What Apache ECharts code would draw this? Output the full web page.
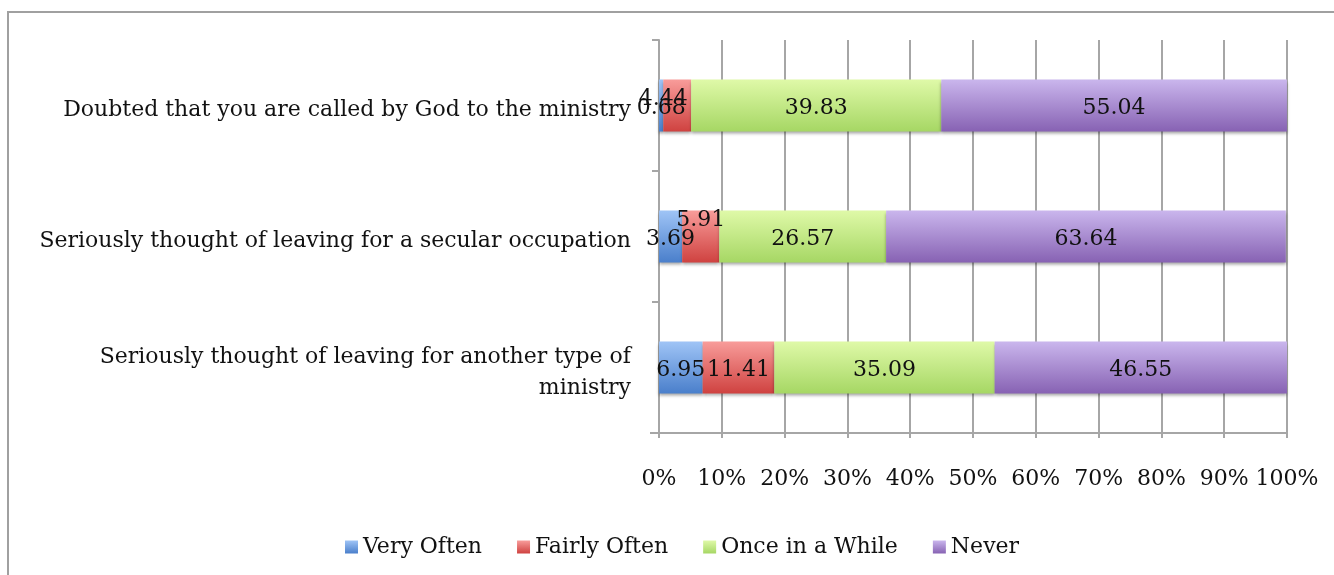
<!DOCTYPE html>
<html><head><meta charset="utf-8">
<script src="https://cdn.jsdelivr.net/npm/echarts@6/dist/echarts.min.js"></script>
<style>html,body{margin:0;padding:0;background:#fff}#c{width:1334px;height:575px}</style>
</head><body><div id="c"></div>
<script>
const categories = [
  'Seriously thought of leaving for another type of\nministry',
  'Seriously thought of leaving for a secular occupation',
  'Doubted that you are called by God to the ministry'
];
const seriesNames = ['Very Often', 'Fairly Often', 'Once in a While', 'Never'];
const veryOften = [6.95, 3.69, 0.68];
const fairlyOften = [11.41, 5.91, 4.44];
const onceInAWhile = [35.09, 26.57, 39.83];
const never = [46.55, 63.64, 55.04];
const tickLabels = ['0%','10%','20%','30%','40%','50%','60%','70%','80%','90%','100%'];

const FONT = 'DejaVu Serif';
const grads = [
  ['#9fc4f6', '#4a7fcb'],
  ['#f89c9a', '#cf4240'],
  ['#dff9a8', '#a6d764'],
  ['#cab6ed', '#8762b3']
];
const labelOffsets = {
  '1-1': [0, -19],
  '1-2': [-14, -9]
};
const allData = [veryOften, fairlyOften, onceInAWhile, never];
const series = allData.map((arr, si) => ({
  name: seriesNames[si],
  type: 'bar',
  stack: 'total',
  barWidth: 52,
  itemStyle: {
    color: new echarts.graphic.LinearGradient(0, 0, 0, 1, [
      {offset: 0, color: grads[si][0]}, {offset: 1, color: grads[si][1]}
    ]),
    shadowColor: 'rgba(0,0,0,0.35)', shadowBlur: 3, shadowOffsetY: 2
  },
  label: {
    show: true, position: 'inside', color: '#111', fontFamily: FONT, fontSize: 22,
    offset: [0, 3],
    formatter: p => p.value.toFixed(2)
  },
  data: arr.map((v, i) => {
    const off = labelOffsets[si + '-' + i];
    return off ? {value: v, label: {offset: [off[0], off[1] + 3]}} : v;
  })
}));

const chart = echarts.init(document.getElementById('c'));
chart.setOption({
  animation: false,
  color: grads.map(g => g[1]),
  grid: [
    {left: 659, right: 47, top: 40, bottom: 142, containLabel: false},
    {left: 659, right: 47, top: 45, bottom: 137, containLabel: false}
  ],
  legend: {
    bottom: 12, left: 340, itemWidth: 13, itemHeight: 13, itemGap: 35, icon: 'rect',
    textStyle: {fontFamily: FONT, fontSize: 22, color: '#111'},
    data: seriesNames
  },
  xAxis: [{
    type: 'value', min: 0, max: 100, interval: 10, gridIndex: 0,
    axisLine: {show: false},
    axisTick: {show: true, length: 5, lineStyle: {color: '#a6a6a6', width: 2}},
    splitLine: {show: true, lineStyle: {color: '#a6a6a6', width: 2}},
    axisLabel: {fontFamily: FONT, fontSize: 22, color: '#111', margin: 35,
      formatter: (v) => tickLabels[Math.round(v / 10)]}
  }, {
    type: 'value', min: 0, max: 100, gridIndex: 1, show: false
  }],
  yAxis: [{
    type: 'category', data: categories, gridIndex: 0,
    axisLine: {show: true, lineStyle: {color: '#a6a6a6', width: 2}},
    axisTick: {show: true, length: 7, lineStyle: {color: '#a6a6a6', width: 2}},
    axisLabel: {show: false}
  }, {
    type: 'category', data: categories, gridIndex: 1,
    axisLine: {show: false}, axisTick: {show: false}, splitLine: {show: false},
    axisLabel: {fontFamily: FONT, fontSize: 22, color: '#111', margin: 28, lineHeight: 31, align: 'right'}
  }],
  graphic: [
    {type: 'line', shape: {x1: 650, y1: 433, x2: 1287, y2: 433}, style: {stroke: '#a6a6a6', lineWidth: 2}},
    {type: 'rect', shape: {x: 8, y: 12, width: 1400, height: 700}, style: {fill: null, stroke: '#a0a0a0', lineWidth: 2}, silent: true}
  ],
  series: series
});
</script></body></html>
